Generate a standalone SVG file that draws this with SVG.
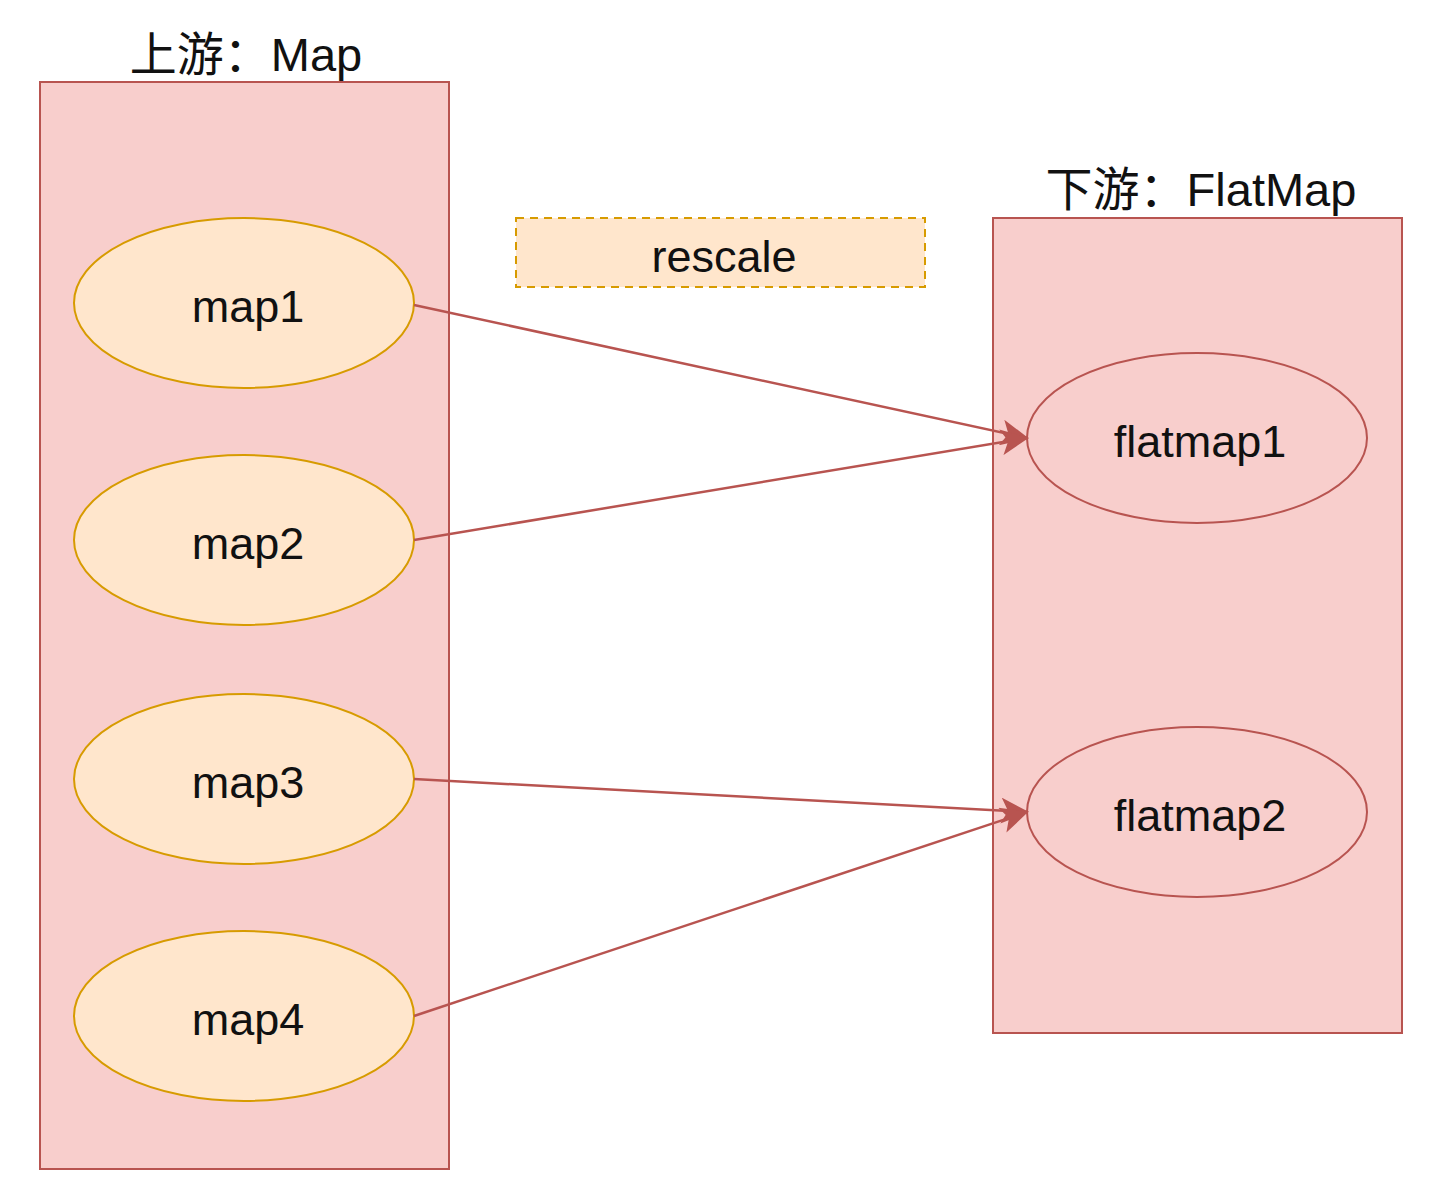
<svg xmlns="http://www.w3.org/2000/svg" width="1454" height="1188" viewBox="0 0 1454 1188">
<style>
.container{fill:#f8cecc;stroke:#b85450;stroke-width:2}
.op{fill:#ffe6cc;stroke:#d79b00;stroke-width:2}
.fm{fill:#f8cecc;stroke:#b85450;stroke-width:2}
.t{font-family:"Liberation Sans","Noto Sans CJK SC",sans-serif;font-size:45px;fill:#111;text-anchor:middle}
.title{font-size:47px}
.edge{stroke:#b85450;stroke-width:2.5;fill:none;marker-end:url(#arr)}
</style>
<defs>
<marker id="arr" markerWidth="28" markerHeight="26" refX="26" refY="13" orient="auto" markerUnits="userSpaceOnUse" viewBox="0 0 28 26">
<path d="M0,0 L28,13 L0,26 L7,13 Z" fill="#b85450"/>
</marker>
</defs>
<rect width="1454" height="1188" fill="#ffffff"/>
<g id="upstream">
<rect class="container" x="40" y="82" width="409" height="1087"/>
<text class="t title" x="246" y="71">上游：Map</text>
</g>
<g id="downstream">
<rect class="container" x="993" y="218" width="409" height="815"/>
<text class="t title" x="1201" y="206">下游：FlatMap</text>
</g>
<g id="rescale">
<rect x="516" y="218" width="409" height="69" fill="#ffe6cc" stroke="#d79b00" stroke-width="2" stroke-dasharray="8 6"/>
<text class="t" x="724" y="272">rescale</text>
</g>
<g id="map1"><ellipse class="op" cx="244" cy="303" rx="170" ry="85"/><text class="t" x="248" y="322">map1</text></g>
<g id="map2"><ellipse class="op" cx="244" cy="540" rx="170" ry="85"/><text class="t" x="248" y="559">map2</text></g>
<g id="map3"><ellipse class="op" cx="244" cy="779" rx="170" ry="85"/><text class="t" x="248" y="798">map3</text></g>
<g id="map4"><ellipse class="op" cx="244" cy="1016" rx="170" ry="85"/><text class="t" x="248" y="1035">map4</text></g>
<g id="flatmap1"><ellipse class="fm" cx="1197" cy="438" rx="170" ry="85"/><text class="t" x="1200" y="457">flatmap1</text></g>
<g id="flatmap2"><ellipse class="fm" cx="1197" cy="812" rx="170" ry="85"/><text class="t" x="1200" y="831">flatmap2</text></g>
<g id="connectors">
<line class="edge" x1="414" y1="305" x2="1027" y2="438"/>
<line class="edge" x1="414" y1="540" x2="1027" y2="438"/>
<line class="edge" x1="414" y1="779" x2="1027" y2="812"/>
<line class="edge" x1="414" y1="1016" x2="1027" y2="812"/>
</g>
</svg>
